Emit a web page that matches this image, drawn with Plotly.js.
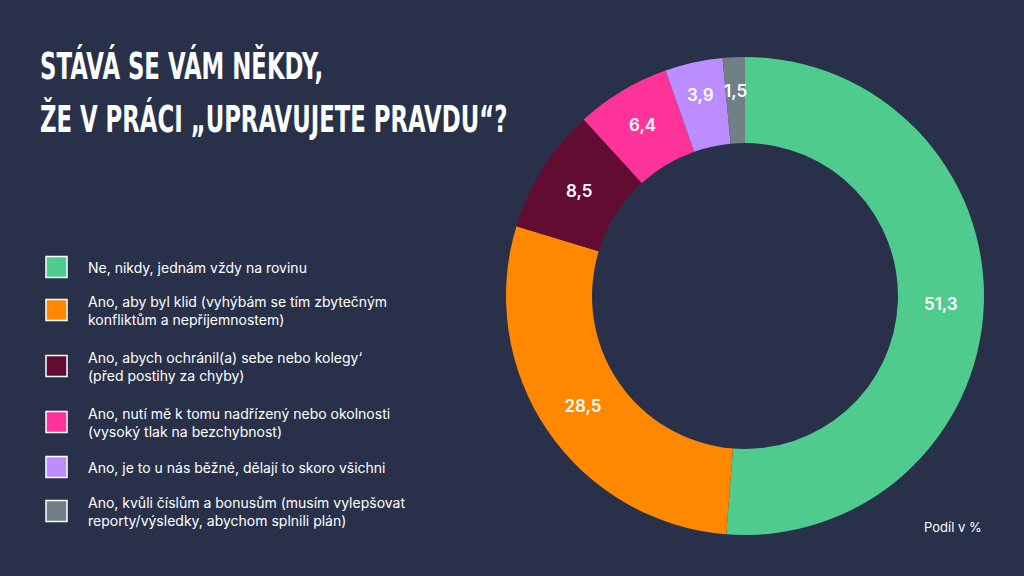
<!DOCTYPE html>
<html><head><meta charset="utf-8">
<script src="https://cdn.plot.ly/plotly-3.0.1.min.js"></script>
<style>html,body{margin:0;padding:0;background:#283149;}#chart{width:1024px;height:576px;}</style>
</head><body><div id="chart"></div>
<script>
const categories = [
  "Ne, nikdy, jednám vždy na rovinu",
  "Ano, aby byl klid (vyhýbám se tím zbytečným<br>konfliktům a nepříjemnostem)",
  "Ano, abych ochránil(a) sebe nebo kolegy‘<br>(před postihy za chyby)",
  "Ano, nutí mě k tomu nadřízený nebo okolnosti<br>(vysoký tlak na bezchybnost)",
  "Ano, je to u nás běžné, dělají to skoro všichni",
  "Ano, kvůli číslům a bonusům (musím vylepšovat<br>reporty/výsledky, abychom splnili plán)"
];
const values = [51.3, 28.5, 8.5, 6.4, 3.9, 1.5];
const colors = ["#4FCB8E", "#FF8800", "#620C32", "#FF3399", "#BB8DFF", "#718088"];
const titleLines = ["STÁVÁ SE VÁM NĚKDY,", "ŽE V PRÁCI „UPRAVUJETE PRAVDU“?"];
const unitNote = "Podíl v %";

const W = 1024, H = 576;
const legendY = [267, 310, 366, 422, 467, 511];
const labelFont = {color: "#ffffff", size: 17, family: "Inter, 'Open Sans', sans-serif", weight: 600};

// pie geometry (pixels)
const cx = 745, cy = 296, rOut = 239, hole = 0.64;
const small = values.map(v => v < 5);

const trace = {
  type: "pie",
  values: values,
  labels: categories,
  marker: {colors: colors, line: {width: 0}},
  hole: hole,
  sort: false,
  direction: "clockwise",
  rotation: 0,
  texttemplate: "%{value:.1f}",
  textposition: small.map(s => s ? "none" : "inside"),
  insidetextorientation: "horizontal",
  textfont: labelFont,
  hoverinfo: "label+value",
  domain: {x: [(cx-rOut)/W, (cx+rOut)/W], y: [(H-cy-rOut)/H, (H-cy+rOut)/H]},
  showlegend: false
};

const shapes = [], annotations = [];
categories.forEach((c, i) => {
  const y = legendY[i];
  shapes.push({
    type: "rect", xref: "paper", yref: "paper",
    x0: 46/W, x1: 67/W, y0: (H-y-10.5)/H, y1: (H-y+10.5)/H,
    fillcolor: colors[i], line: {color: "#ffffff", width: 1.5}
  });
  annotations.push({
    xref: "paper", yref: "paper", x: 86/W, y: (H-y)/H,
    xanchor: "left", yanchor: "middle", align: "left", showarrow: false,
    text: c, font: {color: "#ffffff", size: 14, family: "Inter, 'Open Sans', sans-serif"}
  });
});

// labels for thin slices, placed at the slice's mid-angle
const total = values.reduce((a, b) => a + b, 0);
let cum = 0;
values.forEach((v, i) => {
  const mid = (cum + v/2) / total * 2 * Math.PI;
  cum += v;
  if (!small[i]) return;
  const r = rOut * 0.86;
  annotations.push({
    xref: "paper", yref: "paper",
    x: (cx + r*Math.sin(mid))/W, y: (H - (cy - r*Math.cos(mid)))/H,
    xanchor: "center", yanchor: "middle", showarrow: false,
    text: v.toFixed(1).replace(".", ","), font: labelFont
  });
});

annotations.push({
  xref: "paper", yref: "paper", x: 984/W, y: (H-527)/H,
  xanchor: "right", yanchor: "middle", showarrow: false,
  text: unitNote, font: {color: "#ffffff", size: 13, family: "Inter, 'Open Sans', sans-serif"}
});

const titleBase = [80, 133];
const titleStart = annotations.length;
titleLines.forEach((t, i) => {
  annotations.push({
    xref: "paper", yref: "paper", x: 38/W, y: (H-titleBase[i]-10)/H,
    xanchor: "left", yanchor: "bottom", showarrow: false, align: "left",
    text: t, font: {color: "#ffffff", size: 38, family: "'DejaVu Sans', sans-serif", weight: 700}
  });
});

const layout = {
  width: W, height: H,
  paper_bgcolor: "#283149", plot_bgcolor: "#283149",
  margin: {l: 0, r: 0, t: 0, b: 0},
  separators: ",.",
  showlegend: false,
  shapes: shapes,
  annotations: annotations
};

Plotly.newPlot("chart", [trace], layout, {displayModeBar: false, staticPlot: true}).then(gd => {
  // condense the headline horizontally
  const anns = gd.querySelectorAll("g.annotation");
  anns.forEach(a => {
    const idx = +a.getAttribute("data-index");
    if (idx >= titleStart) {
      const txt = a.querySelector("text.annotation-text");
      if (txt) {
        const bb = txt.getBBox();
        txt.setAttribute("transform", `translate(${bb.x},0) scale(0.6,1) translate(${-bb.x},0)`);
      }
    }
  });
});
</script>
</body></html>
